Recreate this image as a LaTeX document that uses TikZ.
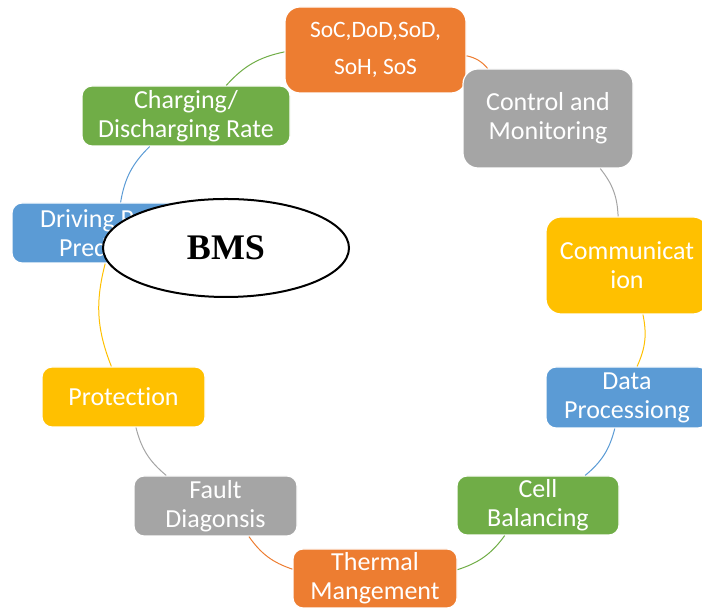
\documentclass[tikz,border=0pt]{standalone}
\usepackage{fontspec}
\setmainfont{Carlito}[Ligatures=CommonOff]
\newfontfamily\bmsfont{Liberation Serif}
\usetikzlibrary{shapes.geometric}
\definecolor{cOrange}{HTML}{ED7D31}
\definecolor{cGray}{HTML}{A5A5A5}
\definecolor{cYellow}{HTML}{FFC000}
\definecolor{cBlue}{HTML}{5B9BD5}
\definecolor{cGreen}{HTML}{70AD47}
\tikzset{
  item/.style={draw=white, line width=1.2pt, text=white, align=center,
    inner sep=0pt, rounded corners=10pt,
    font=\fontsize{26}{29}\selectfont},
  tall/.style={rounded corners=15pt},
  link/.style={line width=1pt, bend left=18},
  hub/.style={ellipse, draw=black, line width=2pt, fill=white,
    minimum width=246pt, minimum height=98pt, inner sep=0pt,
    font=\bmsfont\bfseries\fontsize{36}{40}\selectfont}
}
\begin{document}
\begin{tikzpicture}[x=1pt,y=1pt]
\useasboundingbox (0,0) rectangle (702,609);
% items of the cycle (clockwise from the top)
\node[item, tall, fill=cOrange, minimum width=181pt, minimum height=86pt,
  font=\fontsize{23.5}{37}\selectfont] (soc) at (375.5,559) {SoC,DoD,SoD,\\SoH, SoS};
\node[item, tall, fill=cGray, minimum width=170pt, minimum height=99pt] (ctrl) at (548,490.5) {Control and\\Monitoring};
\node[item, tall, fill=cYellow, minimum width=162pt, minimum height=97pt] (comm) at (627,343.5) {Communicat\\ion};
\node[item, fill=cBlue, minimum width=162pt, minimum height=61pt] (data) at (627,211.5) {Data\\Processiong};
\node[item, fill=cGreen, minimum width=162pt, minimum height=59pt] (cell) at (538,103.5) {Cell\\Balancing};
\node[item, fill=cOrange, minimum width=164pt, minimum height=59pt] (therm) at (375,30.5) {Thermal\\Mangement};
\node[item, fill=cGray, minimum width=163pt, minimum height=60pt] (fault) at (215.5,103) {Fault\\Diagonsis};
\node[item, fill=cYellow, minimum width=163pt, minimum height=60pt] (prot) at (123.5,212) {Protection};
\node[item, fill=cBlue, minimum width=202pt, minimum height=60pt] (drive) at (113,376) {Driving Range\\Prediction};
\node[item, fill=cGreen, minimum width=208pt, minimum height=60pt] (charge) at (186,493) {Charging/\\Discharging Rate};
% arcs joining neighbouring items
\draw[link, cOrange] (soc) to (ctrl);
\draw[link, cGray] (ctrl) to (comm);
\draw[link, cYellow] (comm) to (data);
\draw[link, cBlue] (data) to (cell);
\draw[link, cGreen] (cell) to (therm);
\draw[link, cOrange] (therm) to (fault);
\draw[link, cGray] (fault) to (prot);
\draw[link, cYellow] (prot) to (drive);
\draw[link, cBlue] (drive) to (charge);
\draw[link, cGreen] (charge) to (soc);
% central label
\node[hub] (bms) at (226,361) {BMS};
\end{tikzpicture}
\end{document}
